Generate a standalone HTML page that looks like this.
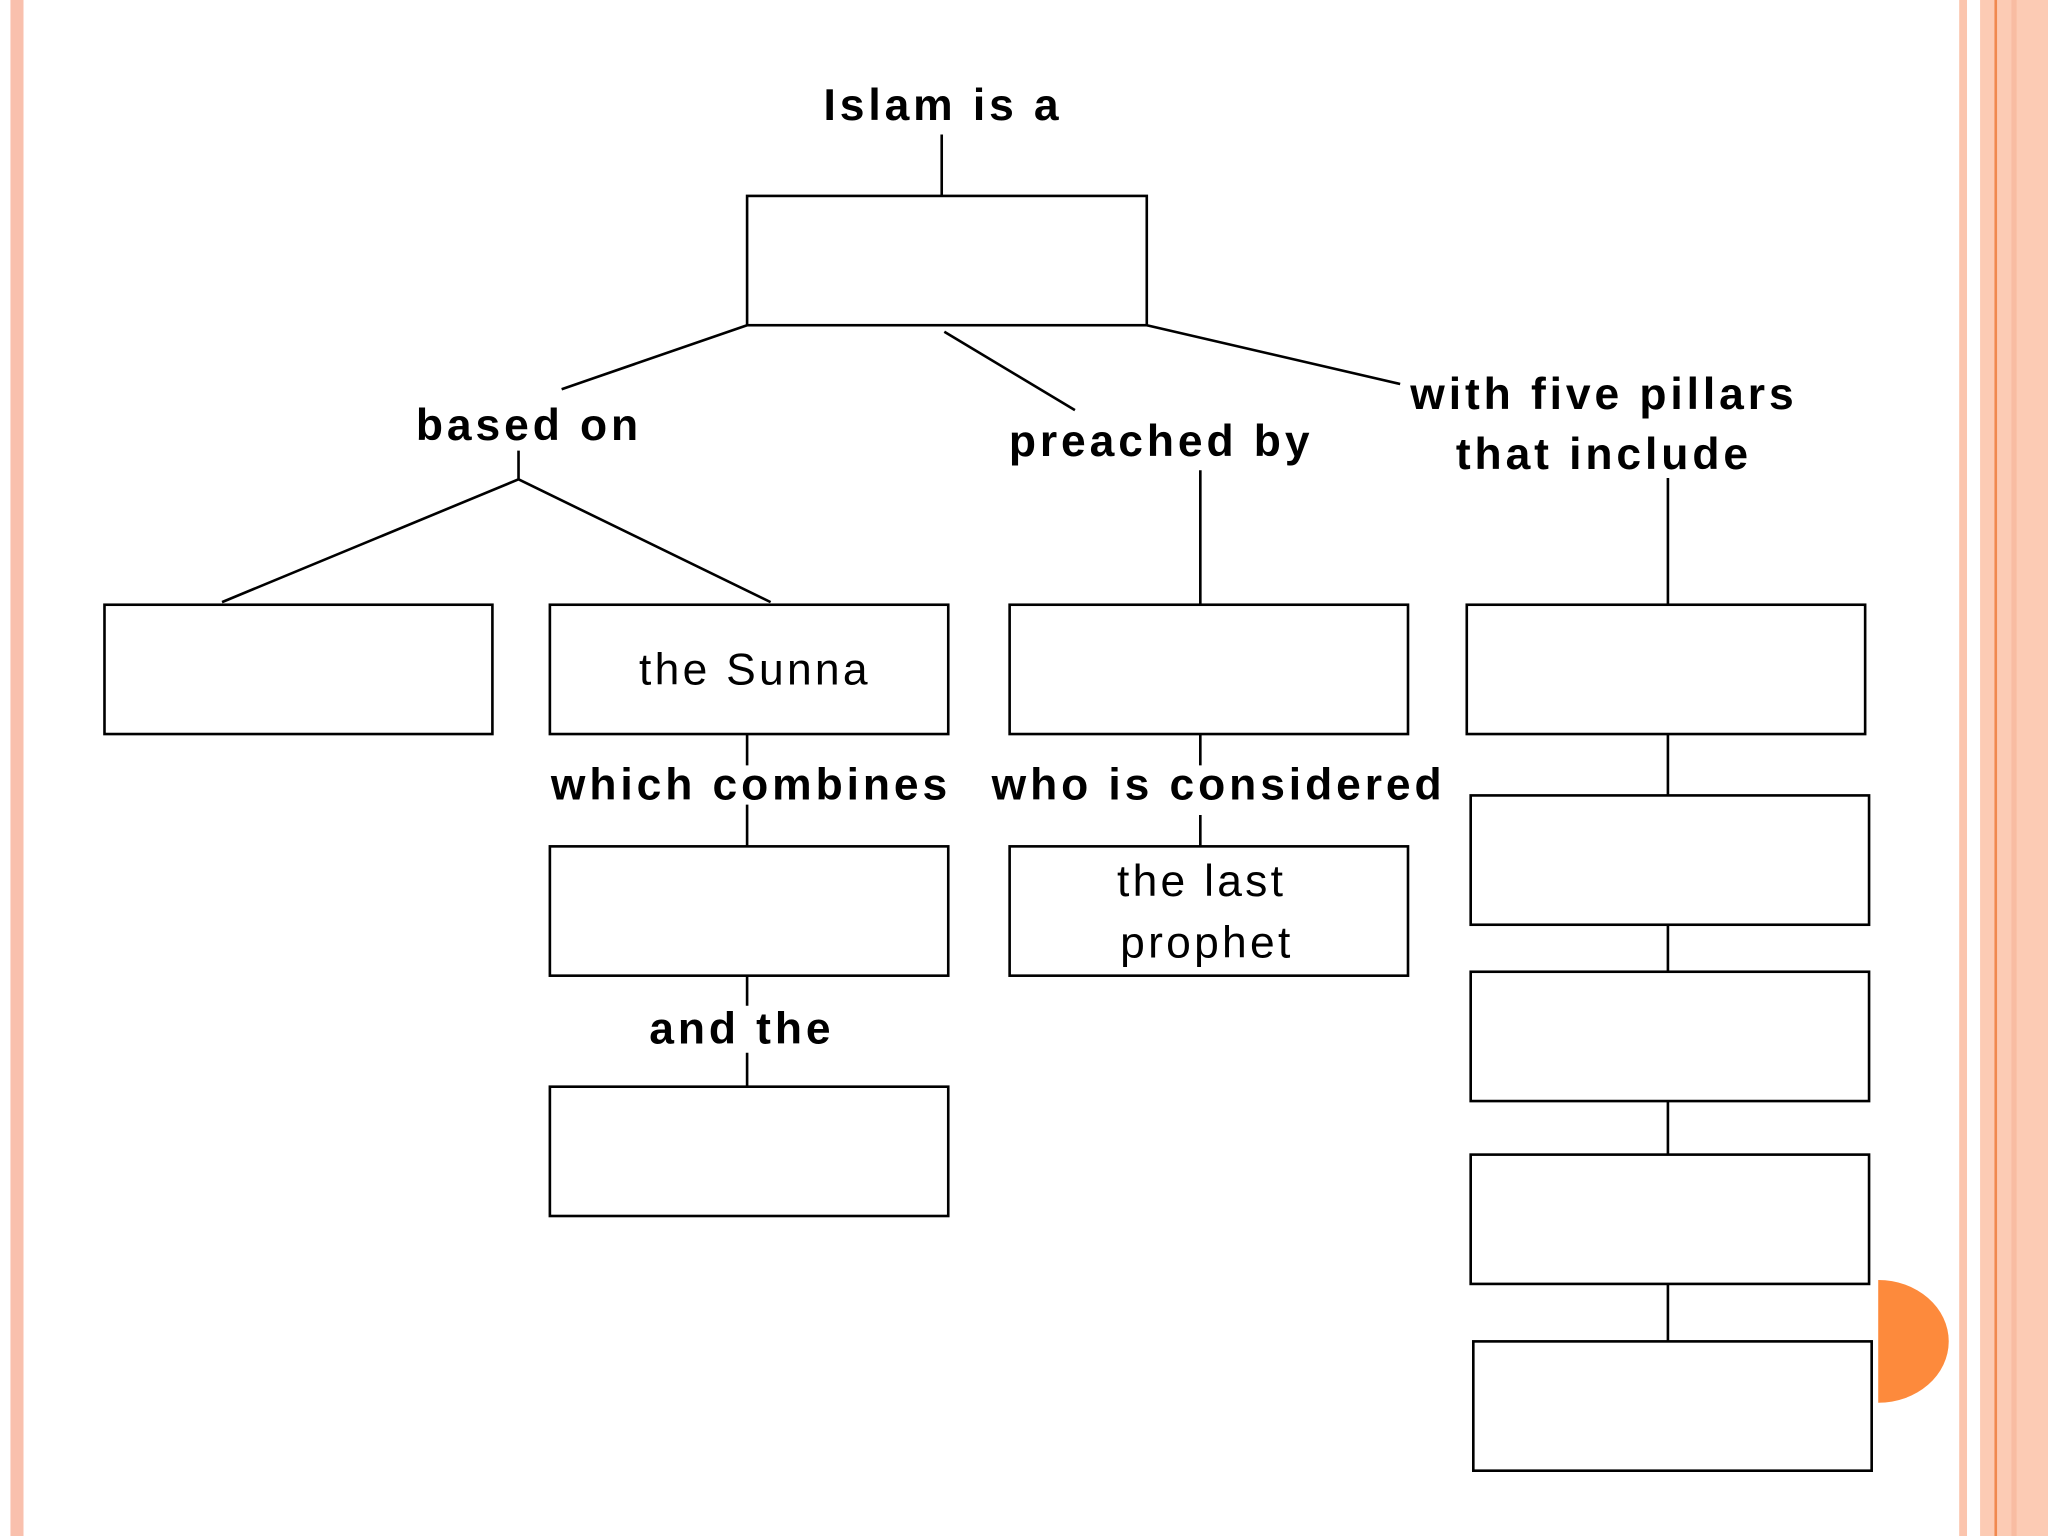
<!DOCTYPE html>
<html><head><meta charset="utf-8"><style>
html,body{margin:0;padding:0;background:#fff}
svg{display:block}
text{font-family:"Liberation Sans",sans-serif;font-size:34px;fill:#000;letter-spacing:2.5px}
.b{font-weight:bold;letter-spacing:3px}
</style></head><body>
<svg width="2048" height="1536" viewBox="0 0 1568 1176" xmlns="http://www.w3.org/2000/svg">
<rect x="0" y="0" width="1568" height="1176" fill="#fff"/>
<rect x="8" y="0" width="10" height="1176" fill="#f9c0ad"/>
<rect x="1500" y="0" width="6" height="1176" fill="#fbc5ae"/>
<rect x="1516" y="0" width="52" height="1176" fill="#fccbb4"/>
<rect x="1527" y="0" width="2" height="1176" fill="#f0894f"/>
<rect x="1540" y="0" width="4" height="1176" fill="#f8bca2"/>
<path d="M1438 980 A54 47 0 0 1 1438 1074 Z" fill="#fd8a3c"/>
<g fill="none" stroke="#000" stroke-width="2">
<rect x="572" y="150" width="306" height="99"/>
<rect x="80" y="463" width="297" height="99"/>
<rect x="421" y="463" width="305" height="99"/>
<rect x="773" y="463" width="305" height="99"/>
<rect x="1123" y="463" width="305" height="99"/>
<rect x="421" y="648" width="305" height="99"/>
<rect x="773" y="648" width="305" height="99"/>
<rect x="421" y="832" width="305" height="99"/>
<rect x="1126" y="609" width="305" height="99"/>
<rect x="1126" y="744" width="305" height="99"/>
<rect x="1126" y="884" width="305" height="99"/>
<rect x="1128" y="1027" width="305" height="99"/>
<path d="M721 103V150 M572 249L430 298 M723 254L823 314 M878 249L1072 294 M397 345V367 M397 367L170 461 M397 367L590 461 M919 360V463 M1277 366V463 M572 562V586 M572 616V648 M919 562V586 M919 624V648 M572 747V770 M572 806V832 M1277 562V609 M1277 708V744 M1277 843V884 M1277 983V1027"/>
</g>
<text class="b" x="722" y="92" text-anchor="middle">Islam is a</text>
<text class="b" x="405" y="337" text-anchor="middle">based on</text>
<text class="b" x="889" y="349" text-anchor="middle">preached by</text>
<text class="b" x="1228" y="313" text-anchor="middle">with five pillars</text>
<text class="b" x="1228" y="359" text-anchor="middle">that include</text>
<text x="578" y="524" text-anchor="middle">the Sunna</text>
<text class="b" x="575" y="612" text-anchor="middle">which combines</text>
<text class="b" x="933" y="612" text-anchor="middle">who is considered</text>
<text x="920" y="686" text-anchor="middle">the last</text>
<text x="924" y="733" text-anchor="middle">prophet</text>
<text class="b" x="568" y="799" text-anchor="middle">and the</text>
</svg>
</body></html>
